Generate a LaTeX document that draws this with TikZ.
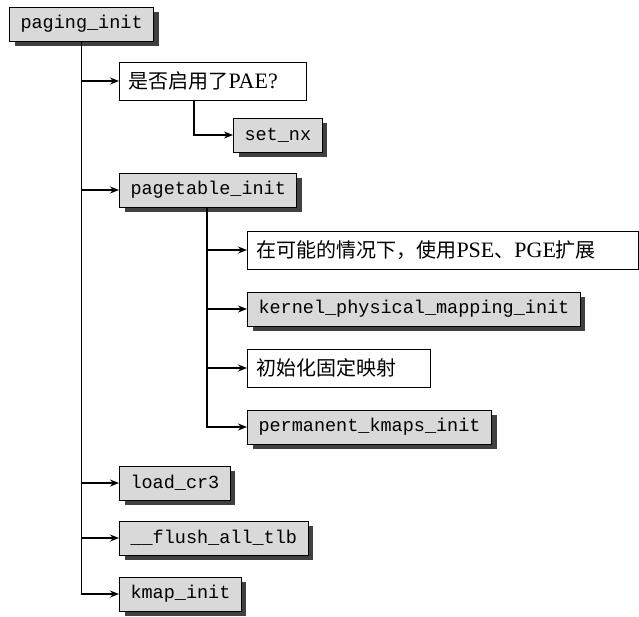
\documentclass[tikz,border=0pt]{standalone}
\usepackage{fontspec}
\setmainfont{Liberation Serif}
\setmonofont{Liberation Mono}
\newfontfamily\cjk{Noto Sans CJK SC}
\newcommand\lat[1]{{\fontsize{22}{22}\rmfamily #1}}
\usetikzlibrary{arrows.meta}

\tikzset{
  fnbox/.style={draw, line width=1pt, fill=black!15, anchor=west,
    font=\fontsize{18.5}{20}\ttfamily, minimum height=34pt, inner xsep=11pt,
    preaction={fill=black!75, transform canvas={xshift=5pt, yshift=-5pt}}},
  notebox/.style={draw, line width=1pt, fill=white, anchor=west, align=left,
    font=\fontsize{20}{22}\cjk, minimum height=38pt, inner xsep=9pt},
  arr/.style={line width=1.5pt, -{Stealth[length=9pt, width=7pt]}},
}

\begin{document}
\begin{tikzpicture}[x=1pt, y=1pt, yscale=-1]
\useasboundingbox (0,0) rectangle (639,616);

% call tree of paging_init
\node[fnbox] (paging) at (9,24) {paging\_init};
\node[notebox, text width=169pt] (pae) at (119,81) {是否启用了\lat{PAE?}};
\node[fnbox] (setnx) at (233,135) {set\_nx};
\node[fnbox] (pgtable) at (119,190) {pagetable\_init};
\node[notebox, text width=373pt] (pse) at (247,250) {在可能的情况下，使用\lat{PSE}、\lat{PGE}扩展};
\node[fnbox] (kpmap) at (247,309) {kernel\_physical\_mapping\_init};
\node[notebox, text width=165pt] (fixmap) at (247,368) {初始化固定映射};
\node[fnbox] (pkmaps) at (247,427) {permanent\_kmaps\_init};
\node[fnbox] (loadcr) at (119,483) {load\_cr3};
\node[fnbox] (flush) at (119,538) {\_\_flush\_all\_tlb};
\node[fnbox] (kmap) at (119,594) {kmap\_init};

% connectors
\foreach \n in {pae, pgtable, loadcr, flush, kmap}
  \draw[arr] (paging.south) |- (\n.west);
\draw[arr] ([xshift=-19pt]pae.south) |- (setnx.west);
\foreach \n in {pse, kpmap, fixmap, pkmaps}
  \draw[arr] ([xshift=-1pt]pgtable.south) |- (\n.west);
\end{tikzpicture}
\end{document}
